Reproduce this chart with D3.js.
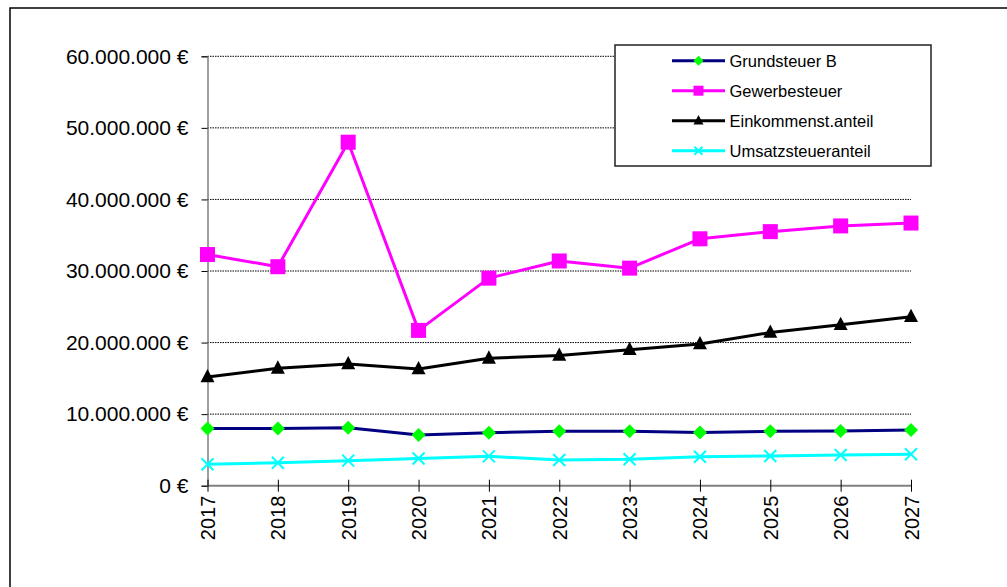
<!DOCTYPE html>
<html>
<head>
<meta charset="utf-8">
<script src="https://cdn.jsdelivr.net/npm/d3@7"></script>
<style>
  html, body { margin: 0; padding: 0; background: #fff; }
  svg { display: block; font-family: "Liberation Sans", Arial, sans-serif; }
</style>
</head>
<body>
<svg id="chart" width="1007" height="587"></svg>
<script>
const years = ["2017","2018","2019","2020","2021","2022","2023","2024","2025","2026","2027"];
const grundsteuerB = [8.0e6, 8.0e6, 8.1e6, 7.1e6, 7.4e6, 7.6e6, 7.6e6, 7.45e6, 7.6e6, 7.65e6, 7.8e6];
const gewerbesteuer = [32.3e6, 30.6e6, 48.0e6, 21.7e6, 29.0e6, 31.4e6, 30.4e6, 34.5e6, 35.5e6, 36.3e6, 36.7e6];
const einkommenst = [15.2e6, 16.4e6, 17.0e6, 16.3e6, 17.8e6, 18.2e6, 19.0e6, 19.8e6, 21.4e6, 22.5e6, 23.6e6];
const umsatzsteuer = [3.0e6, 3.2e6, 3.5e6, 3.8e6, 4.1e6, 3.6e6, 3.7e6, 4.05e6, 4.15e6, 4.3e6, 4.4e6];
const yTicks = [0, 10e6, 20e6, 30e6, 40e6, 50e6, 60e6];
const seriesNames = ["Grundsteuer B", "Gewerbesteuer", "Einkommenst.anteil", "Umsatzsteueranteil"];

const series = [
  { name: seriesNames[0], values: grundsteuerB, color: "#000080", marker: "diamond", fill: "#00FF00" },
  { name: seriesNames[1], values: gewerbesteuer, color: "#FF00FF", marker: "square", fill: "#FF00FF" },
  { name: seriesNames[2], values: einkommenst, color: "#000000", marker: "triangle", fill: "#000000" },
  { name: seriesNames[3], values: umsatzsteuer, color: "#00FFFF", marker: "x", fill: "#00FFFF" }
];

const svg = d3.select("#chart");
const x = d3.scalePoint().domain(years).range([207.5, 911]);
const y = d3.scaleLinear().domain([0, 60e6]).range([485.7, 56.3]);

const de = d3.formatLocale({ decimal: ",", thousands: ".", grouping: [3], currency: ["", " €"] });
const fmt = v => de.format(",.0f")(v) + " €";

// outer frame (clipped at right/bottom)
svg.append("rect").attr("x", 10).attr("y", 8).attr("width", 1200).attr("height", 800)
  .attr("fill", "none").attr("stroke", "#000").attr("stroke-width", 1.5);

// gridlines
svg.append("g").selectAll("line").data(yTicks.filter(d => d > 0)).join("line")
  .attr("x1", 207.5).attr("x2", 911)
  .attr("y1", d => y(d)).attr("y2", d => y(d))
  .attr("stroke", "#000").attr("stroke-width", 1).attr("stroke-dasharray", "1.5,1");

// y axis
const yAxis = svg.append("g").attr("transform", "translate(207.5,0)")
  .call(d3.axisLeft(y).tickValues(yTicks).tickFormat(fmt).tickSize(6).tickPadding(13));
yAxis.select(".domain").attr("stroke", "#808080").attr("stroke-width", 1.5);
yAxis.selectAll(".tick line").attr("stroke", "#000");
yAxis.selectAll("text").attr("font-size", 21).attr("fill", "#000")
  .attr("font-family", "'Liberation Sans', Arial, sans-serif");

// x axis
const xAxis = svg.append("g").attr("transform", "translate(0,485.7)")
  .call(d3.axisBottom(x).tickSizeOuter(0).tickSizeInner(6).tickPadding(8));
xAxis.select(".domain").attr("stroke", "#808080").attr("stroke-width", 2)
  .attr("d", "M207.5,0H911");
xAxis.selectAll(".tick line").attr("y1", -6).attr("y2", 6).attr("stroke", "#000");
xAxis.selectAll("text")
  .attr("font-size", 20).attr("fill", "#000")
  .attr("font-family", "'Liberation Sans', Arial, sans-serif")
  .attr("transform", "rotate(-90)")
  .attr("text-anchor", "end")
  .attr("x", -10).attr("y", 0).attr("dy", "0.35em");

function drawMarker(g, type, fill, s) {
  if (type === "diamond") {
    g.append("path").attr("d", `M0,${-s/2}L${s/2},0L0,${s/2}L${-s/2},0Z`).attr("fill", fill);
  } else if (type === "square") {
    g.append("rect").attr("x", -s/2).attr("y", -s/2).attr("width", s).attr("height", s).attr("fill", fill);
  } else if (type === "triangle") {
    const h = s * 0.95;
    g.append("path").attr("d", `M0,${-h*0.6}L${s/2},${h*0.4}L${-s/2},${h*0.4}Z`).attr("fill", fill);
  } else if (type === "x") {
    const r = s / 2;
    g.append("path").attr("d", `M${-r},${-r}L${r},${r}M${-r},${r}L${r},${-r}`)
      .attr("stroke", fill).attr("stroke-width", 2).attr("fill", "none");
  }
}

const line = d3.line().x((d, i) => x(years[i])).y(d => y(d));
const sizes = { diamond: 14, square: 15, triangle: 14, x: 12 };

// draw in order so markers of later series appear above lines
series.forEach(s => {
  svg.append("path").datum(s.values).attr("d", line)
    .attr("fill", "none").attr("stroke", s.color).attr("stroke-width", 3)
    .attr("stroke-linejoin", "round");
});
series.forEach(s => {
  const g = svg.append("g");
  s.values.forEach((v, i) => {
    const m = g.append("g").attr("transform", `translate(${x(years[i])},${y(v)})`);
    drawMarker(m, s.marker, s.fill, sizes[s.marker]);
  });
});

// legend
const legend = svg.append("g");
legend.append("rect").attr("x", 615).attr("y", 45).attr("width", 316).attr("height", 121)
  .attr("fill", "#fff").attr("stroke", "#222").attr("stroke-width", 1.5);
const legRowY = [60.7, 90.7, 120.7, 150.7];
const legSizes = { diamond: 10, square: 10, triangle: 10, x: 8 };
series.forEach((s, i) => {
  const gy = legRowY[i];
  legend.append("line").attr("x1", 672).attr("x2", 725).attr("y1", gy).attr("y2", gy)
    .attr("stroke", s.color).attr("stroke-width", 3);
  const m = legend.append("g").attr("transform", `translate(698.5,${gy})`);
  drawMarker(m, s.marker, s.fill, legSizes[s.marker]);
  legend.append("text").attr("x", 729.5).attr("y", gy).attr("dy", "0.36em")
    .attr("font-size", 16.5).attr("fill", "#000").text(s.name);
});
</script>
</body>
</html>
